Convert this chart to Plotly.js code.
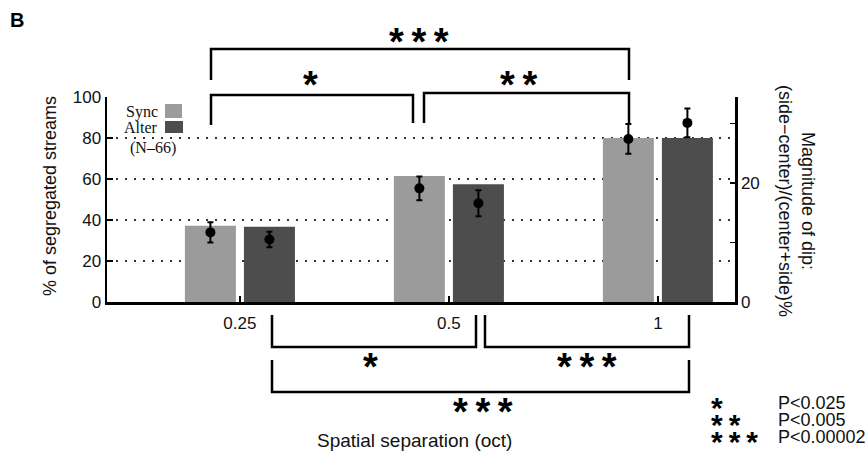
<!DOCTYPE html>
<html>
<head>
<meta charset="utf-8">
<script src="https://cdn.plot.ly/plotly-3.0.1.min.js"></script>
<style>html,body{margin:0;padding:0;background:#fff}#chart{width:867px;height:460px}</style>
</head>
<body>
<div id="chart"></div>
<script>
// ---- data ----
const categories = ['0.25', '0.5', '1'];
const syncPct = [37.2, 61.5, 80.0];       // % of segregated streams (bars, left axis)
const alterPct = [36.7, 57.4, 80.0];
const syncDip = [11.7, 19.1, 27.4];       // magnitude of dip (points, right axis)
const syncDipErr = [1.7, 2.0, 2.5];
const alterDip = [10.5, 16.6, 30.1];
const alterDipErr = [1.3, 2.2, 2.4];
const leftTicks = [0, 20, 40, 60, 80, 100];
const gridVals = [20, 40, 60, 80];
const rightTicks = [0, 10, 20, 30];
const rightTickText = ['0', '', '20', ''];
const pStars = ['*', '*\u2009*', '*\u2009*\u2009*'];
const pLabels = ['P<0.025', 'P<0.005', 'P<0.00002'];

// ---- styles ----
const SYNC_COLOR = '#9b9b9b';
const ALTER_COLOR = '#4d4d4d';
const SANS = 'Liberation Sans, Arial, sans-serif';
const SERIF = 'Liberation Serif, Times New Roman, serif';
const W = 867, H = 460, L = 107, R = 132, T = 97, B = 158;
const PW = W - L - R, PH = H - T - B;
const px = x => (x - L) / PW;
const py = y => (H - B - y) / PH;

const traces = [
  {type: 'bar', name: 'Sync', x: categories, y: syncPct, marker: {color: SYNC_COLOR, line: {width: 0}}, offsetgroup: 's'},
  {type: 'bar', name: 'Alter', x: categories, y: alterPct, marker: {color: ALTER_COLOR, line: {width: 0}}, offsetgroup: 'a'},
  {type: 'scatter', mode: 'markers', x: categories, y: syncDip, yaxis: 'y2', offsetgroup: 's',
   marker: {color: '#000', size: 10},
   error_y: {type: 'data', array: syncDipErr, color: '#000', thickness: 2, width: 3}},
  {type: 'scatter', mode: 'markers', x: categories, y: alterDip, yaxis: 'y2', offsetgroup: 'a',
   marker: {color: '#000', size: 10},
   error_y: {type: 'data', array: alterDipErr, color: '#000', thickness: 2, width: 3}}
];

const shapes = [];
gridVals.forEach(v => shapes.push({type: 'line', layer: 'below', xref: 'paper', yref: 'y', x0: 0, x1: 1, y0: v, y1: v,
  line: {color: '#333', width: 2, dash: '2px,7px'}}));
function bracket(x0, x1, yBar, yLeftEnd, yRightEnd) {
  shapes.push({type: 'path', xref: 'paper', yref: 'paper',
    path: `M${px(x0)},${py(yLeftEnd)} L${px(x0)},${py(yBar)} L${px(x1)},${py(yBar)} L${px(x1)},${py(yRightEnd)}`,
    line: {color: '#000', width: 2.5}});
}
bracket(211, 629, 49, 80, 80);
bracket(211, 413, 95, 125, 123);
bracket(424, 629, 93, 123, 123);
bracket(272, 476, 347, 315, 315);
bracket(485, 689, 347, 315, 315);
bracket(272, 689, 392, 360, 360);
// legend squares
shapes.push({type: 'rect', xref: 'paper', yref: 'paper', x0: px(165), x1: px(182), y0: py(118), y1: py(104), fillcolor: SYNC_COLOR, line: {width: 0}});
shapes.push({type: 'rect', xref: 'paper', yref: 'paper', x0: px(165), x1: px(183), y0: py(133), y1: py(121), fillcolor: ALTER_COLOR, line: {width: 0}});

const ann = [];
function txt(text, x, y, opts) {
  ann.push(Object.assign({xref: 'paper', yref: 'paper', x: px(x), y: py(y), text: text, showarrow: false,
    xanchor: 'center', yanchor: 'middle', font: {family: SANS, size: 17, color: '#111'}}, opts || {}));
}
const starFont = {family: SANS, size: 38, color: '#000', weight: 'bold'};
const STAR_DY = 5;
const S3 = '*\u2009*\u2009*', S2 = '*\u2009*';
txt('B', 8, 20, {xanchor: 'left', font: {family: SANS, size: 20, color: '#000', weight: 'bold'}});
txt('% of segregated streams', 50, 196, {textangle: -90, font: {family: SANS, size: 18, color: '#111'}});
txt('Magnitude of dip:<br>(side\u2212center)/(center+side)%', 797, 201, {textangle: 90, font: {family: SANS, size: 18, color: '#111'}});
txt('Spatial separation (oct)', 414, 440, {font: {family: SANS, size: 19, color: '#111'}});
txt(S3, 419, 37 + STAR_DY, {font: starFont});
txt('*', 310, 80 + STAR_DY, {font: starFont});
txt(S2, 518, 80 + STAR_DY, {font: starFont});
txt('*', 370, 362 + STAR_DY, {font: starFont});
txt(S3, 587, 362 + STAR_DY, {font: starFont});
txt(S3, 483, 407 + STAR_DY, {font: starFont});
txt('Sync', 160, 112, {xanchor: 'right', font: {family: SERIF, size: 16, color: '#111'}});
txt('Alter', 160, 127, {xanchor: 'right', font: {family: SERIF, size: 16, color: '#111'}});
txt('(N\u201366)', 128, 148, {xanchor: 'left', font: {family: SERIF, size: 16, color: '#111'}});
pLabels.forEach((lab, i) => {
  const y = 403 + i * 17;
  txt(pStars[i], 709, y + 4, {xanchor: 'left', font: {family: SANS, size: 30, color: '#000', weight: 'bold'}});
  txt(lab, 776, y, {xanchor: 'left', font: {family: SANS, size: 18, color: '#111'}});
});

const layout = {
  width: W, height: H,
  margin: {l: L, r: R, t: T, b: B, pad: 0},
  paper_bgcolor: '#fff', plot_bgcolor: 'rgba(0,0,0,0)',
  showlegend: false,
  barmode: 'group', bargap: 0.435, bargroupgap: 0.136,
  scattermode: 'group', scattergap: 0.435,
  font: {family: SANS, size: 17, color: '#111'},
  xaxis: {type: 'category', categoryorder: 'array', categoryarray: categories, range: [-0.636, 2.369],
    showline: true, linecolor: '#000', linewidth: 2.5, ticks: 'inside', ticklen: 6, tickwidth: 2, tickcolor: '#000',
    showgrid: false, zeroline: false, tickfont: {family: SANS, size: 17, color: '#111'}, ticklabelstandoff: 4},
  yaxis: {range: [0, 100], tickvals: leftTicks, showline: true, linecolor: '#000', linewidth: 2.5,
    ticks: 'inside', ticklen: 6, tickwidth: 2, tickcolor: '#000', showgrid: false, zeroline: false,
    tickfont: {family: SANS, size: 17, color: '#111'}},
  yaxis2: {overlaying: 'y', side: 'right', range: [0, 34.45], tickvals: rightTicks, ticktext: rightTickText,
    showline: true, linecolor: '#000', linewidth: 2.5, ticks: 'inside', ticklen: 5, tickwidth: 1.5, tickcolor: '#000',
    showgrid: false, zeroline: false, tickfont: {family: SANS, size: 17, color: '#111'}},
  shapes: shapes,
  annotations: ann
};

Plotly.newPlot('chart', traces, layout, {displayModeBar: false, staticPlot: true});
</script>
</body>
</html>
